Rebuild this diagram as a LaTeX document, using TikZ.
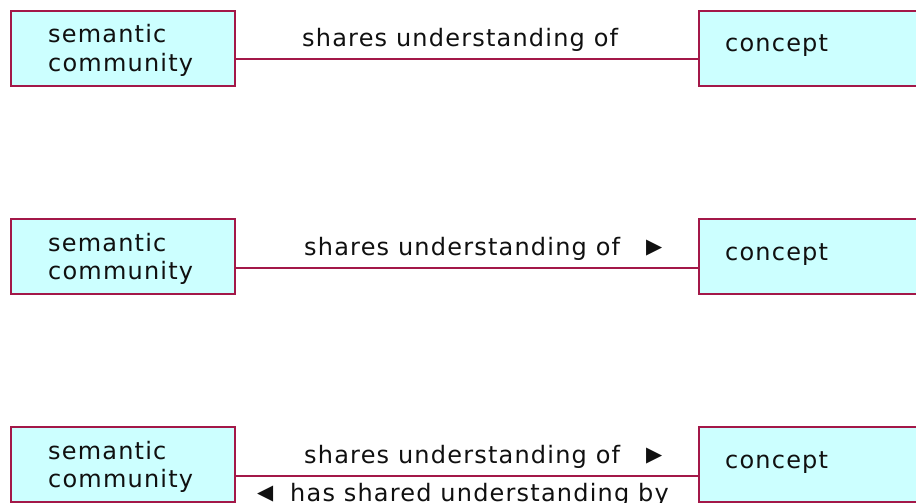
\documentclass[tikz,border=0pt]{standalone}
\usepackage{fontspec}
\setmainfont{DejaVu Sans}[LetterSpace=5]
\definecolor{edgecol}{HTML}{A31848}
\definecolor{boxfill}{HTML}{CCFFFF}
\definecolor{inkcol}{HTML}{101010}
\begin{document}
\begin{tikzpicture}[x=1pt,y=-1pt,
  box/.style={draw=edgecol, line width=2pt, fill=boxfill, minimum width=224pt, minimum height=75pt, anchor=north west, inner sep=0pt},
  rbox/.style={box, minimum width=240pt},
  txt/.style={anchor=base west, inner sep=0pt, font=\fontsize{24}{24}\selectfont, text=inkcol},
  tri/.style={anchor=base west, inner sep=0pt, font=\fontsize{21}{21}\selectfont, text=inkcol},
  link/.style={draw=edgecol, line width=2pt}]
\useasboundingbox (0,0) rectangle (916,503);
\clip (0,0) rectangle (916,503);
% row 1
\node[box] (sc1) at (10,10) {};
\node[rbox] (c1) at (698,10) {};
\node[txt] (sc1a) at (48,43) {semantic};
\node[txt] (sc1b) at (48,71) {community};
\node[txt] (c1t) at (725,52) {concept};
\draw[link] ([yshift=-11pt]sc1.east) -- ([yshift=-11pt]c1.west);
\node[txt] (l1) at (302,47) {shares understanding of};
% row 2
\node[box] (sc2) at (10,218) {};
\node[rbox] (c2) at (698,218) {};
\node[txt] (sc2a) at (48,251) {semantic};
\node[txt] (sc2b) at (48,279) {community};
\node[txt] (c2t) at (725,260) {concept};
\draw[link] ([yshift=-11pt]sc2.east) -- ([yshift=-11pt]c2.west);
\node[txt] (l2) at (304,255) {shares understanding of};
\node[tri] (t2) at (646,253) {▶};
% row 3
\node[box] (sc3) at (10,426) {};
\node[rbox] (c3) at (698,426) {};
\node[txt] (sc3a) at (48,459) {semantic};
\node[txt] (sc3b) at (48,487) {community};
\node[txt] (c3t) at (725,468) {concept};
\draw[link] ([yshift=-11pt]sc3.east) -- ([yshift=-11pt]c3.west);
\node[txt] (l3) at (304,463) {shares understanding of};
\node[tri] (t3) at (646,461) {▶};
\node[tri] (t4) at (257,499) {◀};
\node[txt] (l4) at (290,501) {has shared understanding by};
\end{tikzpicture}
\end{document}
